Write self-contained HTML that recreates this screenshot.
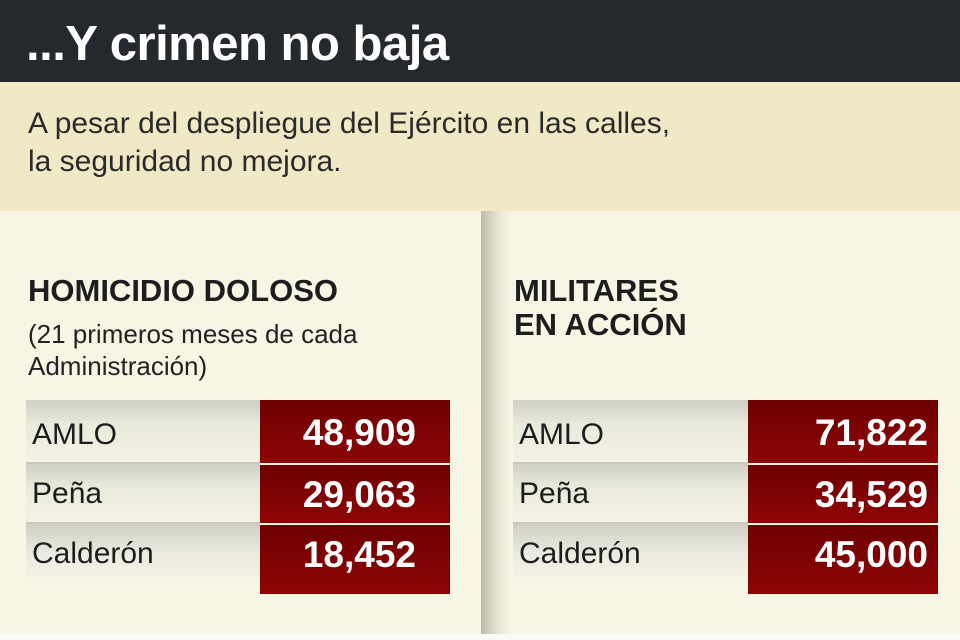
<!DOCTYPE html>
<html><head><meta charset="utf-8"><style>
body{margin:0;width:960px;height:640px;overflow:hidden;background:#f7f5e4;font-family:"Liberation Sans",sans-serif;position:relative}
.top{position:absolute;left:0;top:0;width:960px;height:82px;background:#25292d;color:#fff;font-weight:bold;font-size:49px;line-height:88px;box-sizing:border-box;padding-left:26px;letter-spacing:-0.5px}
.sub{position:absolute;left:0;top:82px;width:960px;height:129px;background:#efe9c6;color:#2a2a2a;font-size:30px;line-height:38px;padding:23px 0 0 28px;box-sizing:border-box}
.div{position:absolute;left:481px;top:211px;width:30px;height:429px;background:linear-gradient(90deg,#bdbcad,#e8e6d3 60%,#f7f5e4)}
.h{position:absolute;font-weight:bold;font-size:31px;line-height:34px;color:#1d1d1d}
.n{position:absolute;font-size:26px;line-height:32px;color:#222}
.row{position:absolute;height:60px;background:linear-gradient(180deg,#cfcfc3,#e9e9dc 40%,#f4f3e5);border-bottom:2px solid #c9c8bb;box-sizing:border-box;font-size:30px;line-height:70px;color:#1d1d1d;padding-left:6px}
.red{position:absolute;background:linear-gradient(180deg,#6e0000,#8e0505);color:#fff;font-weight:bold;font-size:37px;text-align:right;padding-right:34px;box-sizing:border-box;line-height:66px}
.bot{position:absolute;left:0;top:634px;width:960px;height:6px;background:#fbfbf6}
</style></head><body>
<div class="top">...Y crimen no baja</div>
<div class="sub">A pesar del despliegue del Ejército en las calles,<br>la seguridad no mejora.</div>
<div class="div"></div>
<div class="h" style="left:28px;top:274px">HOMICIDIO DOLOSO</div>
<div class="n" style="left:28px;top:318px">(21 primeros meses de cada<br>Administración)</div>
<div class="h" style="left:514px;top:274px">MILITARES<br>EN ACCIÓN</div>

<div class="row" style="left:26px;top:400px;width:234px;height:64px">AMLO</div>
<div class="row" style="left:26px;top:464px;width:234px;line-height:60px">Peña</div>
<div class="row" style="left:26px;top:524px;width:234px;border:none;line-height:60px;background:linear-gradient(180deg,#cfcfc3,#ecebdf 50%,#f5f4e6)">Calderón</div>
<div class="red" style="left:260px;top:400px;width:190px;height:63px">48,909</div>
<div class="red" style="left:260px;top:465px;width:190px;height:58px;line-height:60px">29,063</div>
<div class="red" style="left:260px;top:525px;width:190px;height:69px;line-height:60px">18,452</div>

<div class="row" style="left:513px;top:400px;width:235px;height:64px">AMLO</div>
<div class="row" style="left:513px;top:464px;width:235px;line-height:60px">Peña</div>
<div class="row" style="left:513px;top:524px;width:235px;border:none;line-height:60px;background:linear-gradient(180deg,#cfcfc3,#ecebdf 50%,#f5f4e6)">Calderón</div>
<div class="red" style="left:748px;top:400px;width:190px;height:63px;padding-right:10px">71,822</div>
<div class="red" style="left:748px;top:465px;width:190px;height:58px;line-height:60px;padding-right:10px">34,529</div>
<div class="red" style="left:748px;top:525px;width:190px;height:69px;line-height:60px;padding-right:10px">45,000</div>
<div class="bot"></div>
</body></html>
